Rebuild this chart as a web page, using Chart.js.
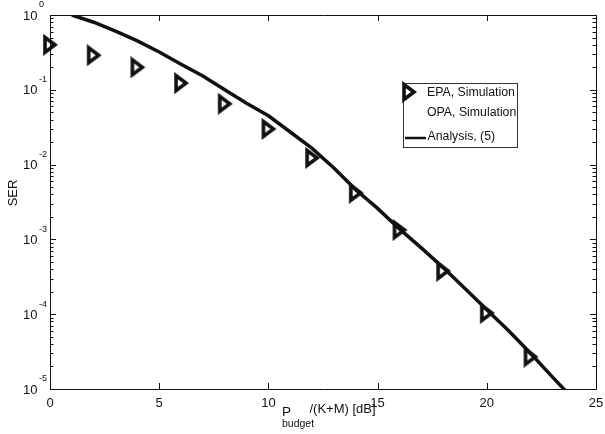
<!DOCTYPE html>
<html>
<head>
<meta charset="utf-8">
<script src="https://cdn.jsdelivr.net/npm/chart.js@4"></script>
<style>
html,body{margin:0;padding:0;background:#fff;}
#wrap{width:605px;height:434px;}
</style>
</head>
<body>
<div id="wrap"><canvas id="c" width="605" height="434"></canvas></div>
<script>
// ---- data ----
const epaX = [0, 2, 4, 6, 8, 10, 12, 14, 16, 18, 20, 22];
const epaSER = [0.40, 0.29, 0.20, 0.123, 0.065, 0.030, 0.0123, 0.0042, 0.00134, 0.00038, 0.000104, 0.000027];
const anaX = [1, 2, 3, 4, 5, 6, 7, 8, 9, 10, 11, 12, 13, 14, 15, 16, 17, 18, 19, 20, 21, 22, 23, 23.6];
const anaSER = [1.0, 0.80, 0.61, 0.45, 0.32, 0.22, 0.153, 0.10, 0.066, 0.045, 0.0273, 0.0165, 0.009, 0.0046, 0.0026, 0.00138, 0.00077, 0.00042, 0.00022, 0.000115, 0.00006, 0.00003, 0.0000145, 0.0000095];
const opaX = [17, 18, 19, 20, 21, 22, 23, 23.6];
const opaSER = [0.00076, 0.000415, 0.000217, 0.000113, 0.0000585, 0.0000292, 0.0000142, 0.0000093];
const xTicks = [0, 5, 10, 15, 20, 25];
const yExps = [0, -1, -2, -3, -4, -5];
const legendLabels = ['EPA, Simulation', 'OPA, Simulation', 'Analysis, (5)'];
const xLabelMain = 'P';
const xLabelSub = 'budget';
const xLabelRest = '/(K+M) [dB]';
const yLabel = 'SER';

const FONT = '"Liberation Sans", Arial, Helvetica, sans-serif';
const INK = '#111';

// right-pointing triangle marker
function makeMarker() {
  const c = document.createElement('canvas');
  c.width = 22; c.height = 22;
  const g = c.getContext('2d');
  g.strokeStyle = INK;
  g.lineWidth = 3.6;
  g.lineJoin = 'miter';
  g.beginPath();
  g.moveTo(6, 3.5);
  g.lineTo(6, 18.5);
  g.lineTo(16, 11);
  g.closePath();
  g.stroke();
  return c;
}
const marker = makeMarker();

const toPts = (xs, ys) => xs.map((x, i) => ({x: x, y: ys[i]}));

const axesPlugin = {
  id: 'matlabAxes',
  beforeDatasetsDraw(chart) {
    const ctx = chart.ctx, a = chart.chartArea;
    const xs = chart.scales.x, ys = chart.scales.y;
    ctx.save();
    ctx.strokeStyle = INK;
    ctx.lineWidth = 1;
    ctx.beginPath();
    ctx.rect(Math.round(a.left) + 0.5, Math.round(a.top) + 0.5, Math.round(a.right - a.left), Math.round(a.bottom - a.top));
    ctx.stroke();
    ctx.beginPath();
    xTicks.forEach(t => {
      const px = Math.round(xs.getPixelForValue(t)) + 0.5;
      ctx.moveTo(px, a.bottom); ctx.lineTo(px, a.bottom - 6);
      ctx.moveTo(px, a.top); ctx.lineTo(px, a.top + 6);
    });
    yExps.forEach(e => {
      const py = Math.round(ys.getPixelForValue(Math.pow(10, e))) + 0.5;
      ctx.moveTo(a.left, py); ctx.lineTo(a.left + 6, py);
      ctx.moveTo(a.right, py); ctx.lineTo(a.right - 6, py);
      if (e > -5) {
        for (let m = 2; m <= 9; m++) {
          const v = m * Math.pow(10, e - 1);
          const p = Math.round(ys.getPixelForValue(v)) + 0.5;
          ctx.moveTo(a.left, p); ctx.lineTo(a.left + 3.5, p);
          ctx.moveTo(a.right, p); ctx.lineTo(a.right - 3.5, p);
        }
      }
    });
    ctx.stroke();
    ctx.restore();
  },
  afterDraw(chart) {
    const ctx = chart.ctx, a = chart.chartArea;
    const xs = chart.scales.x, ys = chart.scales.y;
    ctx.save();
    ctx.fillStyle = INK;
    // x tick labels
    ctx.font = '13px ' + FONT;
    ctx.textAlign = 'center';
    ctx.textBaseline = 'middle';
    xTicks.forEach(t => ctx.fillText(String(t), xs.getPixelForValue(t), 403));
    // y tick labels
    yExps.forEach(e => {
      const py = ys.getPixelForValue(Math.pow(10, e));
      ctx.font = '13px ' + FONT;
      ctx.textAlign = 'right';
      ctx.textBaseline = 'middle';
      ctx.fillText('10', 37.5, py + 1);
      ctx.font = '9px ' + FONT;
      ctx.textAlign = 'left';
      ctx.fillText(e === 0 ? '0' : '-' + Math.abs(e), 39, py - 10);
    });
    // y label
    ctx.save();
    ctx.translate(13, 193);
    ctx.rotate(-Math.PI / 2);
    ctx.font = '13px ' + FONT;
    ctx.textAlign = 'center';
    ctx.textBaseline = 'middle';
    ctx.fillText(yLabel, 0, 0);
    ctx.restore();
    // x label
    ctx.textAlign = 'left';
    ctx.textBaseline = 'alphabetic';
    ctx.font = '13.5px ' + FONT;
    ctx.fillText(xLabelMain, 282, 416);
    ctx.font = '13px ' + FONT;
    ctx.fillText(xLabelRest, 309.5, 413);
    ctx.font = '10.5px ' + FONT;
    ctx.fillText(xLabelSub, 282, 427);
    // legend
    ctx.fillStyle = '#fff';
    ctx.fillRect(403.5, 83.5, 114, 64);
    ctx.strokeStyle = '#333';
    ctx.lineWidth = 1;
    ctx.strokeRect(403.5, 83.5, 114, 64);
    ctx.drawImage(marker, 409 - marker.width / 2, 92 - marker.height / 2);
    ctx.strokeStyle = INK;
    ctx.lineWidth = 2.5;
    ctx.beginPath();
    ctx.moveTo(405, 138); ctx.lineTo(426, 138);
    ctx.stroke();
    ctx.fillStyle = INK;
    ctx.font = '12.3px ' + FONT;
    ctx.textBaseline = 'middle';
    ctx.fillText(legendLabels[0], 427, 92.5);
    ctx.fillText(legendLabels[1], 427, 112.5);
    ctx.fillText(legendLabels[2], 427.5, 136.5);
    ctx.restore();
  }
};

new Chart(document.getElementById('c'), {
  type: 'line',
  data: {
    datasets: [
      {
        label: legendLabels[2],
        data: toPts(anaX, anaSER),
        borderColor: INK,
        borderWidth: 3.5,
        pointRadius: 0,
        tension: 0,
        fill: false
      },
      {
        label: legendLabels[1],
        data: toPts(opaX, opaSER),
        borderColor: '#ffffff',
        borderWidth: 1.1,
        pointRadius: 0,
        tension: 0,
        fill: false
      },
      {
        label: legendLabels[0],
        data: toPts(epaX, epaSER),
        showLine: false,
        pointStyle: marker,
        pointRadius: 8,
        borderColor: INK,
        backgroundColor: 'transparent',
        clip: false
      }
    ]
  },
  options: {
    responsive: false,
    animation: false,
    events: [],
    layout: {padding: {left: 50, top: 15, right: 4, bottom: 45}},
    plugins: {legend: {display: false}, tooltip: {enabled: false}, title: {display: false}},
    scales: {
      x: {
        type: 'linear', min: 0, max: 25,
        ticks: {display: false}, grid: {display: false}, border: {display: false},
        afterFit: s => { s.height = 0; }
      },
      y: {
        type: 'logarithmic', min: 1e-5, max: 1,
        ticks: {display: false}, grid: {display: false}, border: {display: false},
        afterFit: s => { s.width = 0; }
      }
    }
  },
  plugins: [axesPlugin]
});
</script>
</body>
</html>
